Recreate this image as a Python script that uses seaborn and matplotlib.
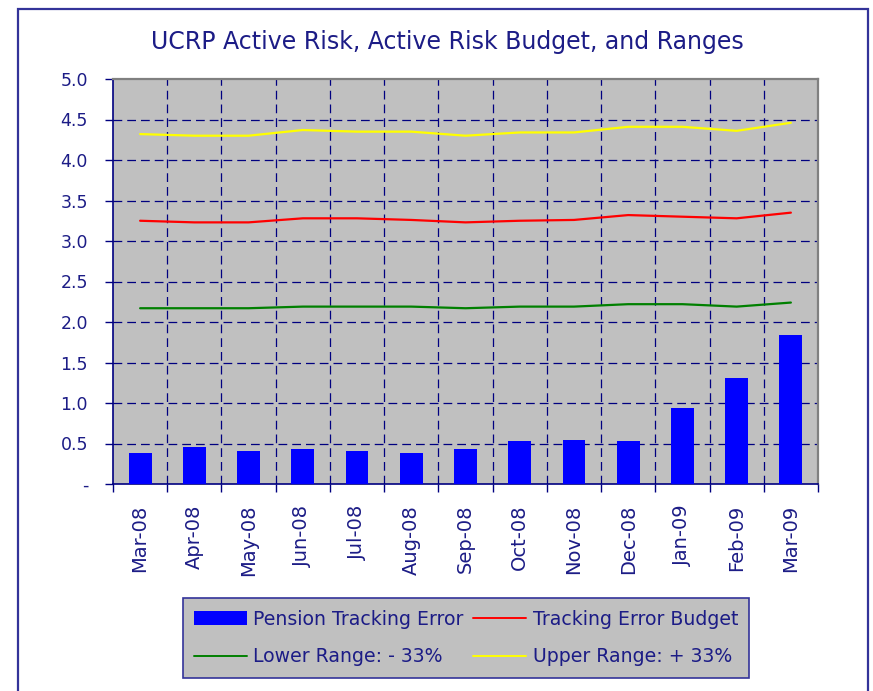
import numpy as np
import pandas as pd
import seaborn as sns
import matplotlib.pyplot as plt
from matplotlib.patches import Rectangle, Patch
from matplotlib.lines import Line2D

months = ["Mar-08", "Apr-08", "May-08", "Jun-08", "Jul-08", "Aug-08", "Sep-08",
          "Oct-08", "Nov-08", "Dec-08", "Jan-09", "Feb-09", "Mar-09"]
pension_te = [0.38, 0.46, 0.41, 0.43, 0.41, 0.38, 0.43, 0.53, 0.54, 0.53, 0.94, 1.31, 1.84]
te_budget = [3.25, 3.23, 3.23, 3.28, 3.28, 3.26, 3.23, 3.25, 3.26, 3.32, 3.30, 3.28, 3.35]
lower_range = [2.17, 2.17, 2.17, 2.19, 2.19, 2.19, 2.17, 2.19, 2.19, 2.22, 2.22, 2.19, 2.24]
upper_range = [4.32, 4.30, 4.30, 4.37, 4.35, 4.35, 4.30, 4.34, 4.34, 4.41, 4.41, 4.36, 4.46]
y_ticks = [0, 0.5, 1.0, 1.5, 2.0, 2.5, 3.0, 3.5, 4.0, 4.5, 5.0]
y_labels = ["-", "0.5", "1.0", "1.5", "2.0", "2.5", "3.0", "3.5", "4.0", "4.5", "5.0"]

navy = "#1c1c86"
grid_col = "#000080"

sns.set_style("white")
plt.rcParams["font.family"] = ["DejaVu Sans"]

fig = plt.figure(figsize=(8.73, 6.91), dpi=100)
W, H = 873, 691
ax = fig.add_axes([113 / W, 1 - 484 / H, 705 / W, 405 / H])
ax.set_facecolor("#C0C0C0")

idx = np.arange(len(months))
sns.barplot(x=months, y=pension_te, color="#0000FF", saturation=1, width=0.42,
            edgecolor="none", linewidth=0, ax=ax, zorder=3)

lines = pd.DataFrame({
    "x": np.tile(idx, 3),
    "value": te_budget + lower_range + upper_range,
    "series": ["Tracking Error Budget"] * 13 + ["Lower Range: - 33%"] * 13 + ["Upper Range: + 33%"] * 13,
})
sns.lineplot(data=lines, x="x", y="value", hue="series",
             palette={"Tracking Error Budget": "#FF0000", "Lower Range: - 33%": "#008000",
                      "Upper Range: + 33%": "#FFFF00"},
             linewidth=1.6, legend=False, ax=ax, zorder=4)

ax.set_xlim(-0.5, len(months) - 0.5)
ax.set_ylim(0, 5)
ax.set_xlabel("")
ax.set_ylabel("")

# dashed grid, vertical lines sit between months
for yv in y_ticks[1:-1]:
    ax.axhline(yv, color=grid_col, lw=0.9, dashes=(7, 4), zorder=2)
for xv in idx[1:]:
    ax.axvline(xv - 0.5, color=grid_col, lw=0.9, dashes=(7, 4), zorder=2)

ax.set_yticks(y_ticks)
ax.set_yticklabels(y_labels)
ax.set_xticks(idx)
ax.set_xticklabels(months, rotation=90)
ax.set_xticks(np.arange(len(months) + 1) - 0.5, minor=True)
ax.tick_params(axis="x", which="major", length=0, pad=15, labelsize=14, labelcolor=navy)
ax.tick_params(axis="x", which="minor", length=6, width=1, color=grid_col, direction="out", bottom=True)
ax.tick_params(axis="y", length=6, width=1, color=grid_col, direction="out", left=True,
               pad=12, labelsize=12.5, labelcolor=navy)
for lab in ax.get_xticklabels():
    lab.set_va("top")

for s in ["left", "bottom"]:
    ax.spines[s].set_color(grid_col)
    ax.spines[s].set_linewidth(1.2)
for s in ["top", "right"]:
    ax.spines[s].set_color("#808080")
    ax.spines[s].set_linewidth(1.6)
    ax.spines[s].set_visible(True)

fig.text(447 / W, 1 - 42 / H, "UCRP Active Risk, Active Risk Budget, and Ranges",
         ha="center", va="center", fontsize=17, color=navy)

handles = [
    Patch(facecolor="#0000FF", edgecolor="none", label="Pension Tracking Error"),
    Line2D([], [], color="#FF0000", lw=1.4, label="Tracking Error Budget"),
    Line2D([], [], color="#008000", lw=1.4, label="Lower Range: - 33%"),
    Line2D([], [], color="#FFFF00", lw=1.4, label="Upper Range: + 33%"),
]
leg = fig.legend(handles=[handles[0], handles[2], handles[1], handles[3]], ncol=2,
                 loc="center", bbox_to_anchor=(466 / W, 1 - 638 / H),
                 fontsize=13.6, frameon=True, fancybox=False, facecolor="#C0C0C0",
                 edgecolor="#333399", framealpha=1, handlelength=2.8, handleheight=0.8,
                 handletextpad=0.35, columnspacing=0.5, labelspacing=1.0, borderpad=0.6)
leg.get_frame().set_linewidth(1.2)
for t in leg.get_texts():
    t.set_color(navy)

fig.patches.append(Rectangle((18 / W, -0.01), (868 - 18) / W, 1.01 - 9 / H,
                             transform=fig.transFigure, fill=False,
                             edgecolor="#333399", lw=1.6))

fig.savefig("out.png", dpi=100)
